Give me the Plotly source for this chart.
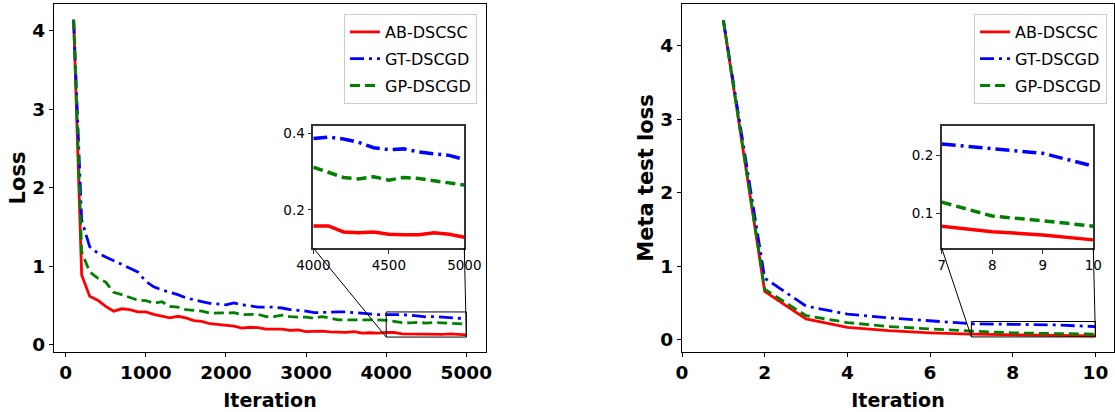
import plotly.graph_objects as go

# ---------------- data ----------------
iters_left = list(range(100, 5001, 100))
ab_left = [4.14, 0.89, 0.62, 0.57, 0.49, 0.43, 0.46, 0.45, 0.42, 0.42,
           0.39, 0.37, 0.345, 0.365, 0.345, 0.31, 0.30, 0.27, 0.26, 0.245,
           0.24, 0.215, 0.225, 0.22, 0.20, 0.20, 0.20, 0.185, 0.19, 0.17,
           0.17, 0.175, 0.165, 0.165, 0.16, 0.17, 0.15, 0.155, 0.15, 0.158,
           0.158, 0.142, 0.14, 0.142, 0.136, 0.135, 0.135, 0.14, 0.136, 0.128]
gt_left = [4.14, 1.59, 1.25, 1.17, 1.12, 1.07, 1.02, 0.98, 0.93, 0.81,
           0.74, 0.70, 0.67, 0.64, 0.60, 0.57, 0.55, 0.53, 0.52, 0.51,
           0.535, 0.51, 0.50, 0.48, 0.48, 0.48, 0.47, 0.45, 0.44, 0.43,
           0.41, 0.415, 0.42, 0.42, 0.42, 0.41, 0.40, 0.39, 0.385, 0.387,
           0.391, 0.386, 0.377, 0.363, 0.358, 0.36, 0.352, 0.347, 0.343, 0.332]
gp_left = [4.14, 1.18, 0.93, 0.85, 0.80, 0.67, 0.64, 0.61, 0.57, 0.565,
           0.53, 0.55, 0.49, 0.48, 0.45, 0.44, 0.43, 0.405, 0.405, 0.405,
           0.41, 0.385, 0.385, 0.39, 0.36, 0.36, 0.38, 0.36, 0.355, 0.355,
           0.34, 0.36, 0.34, 0.32, 0.32, 0.32, 0.32, 0.325, 0.32, 0.312,
           0.298, 0.285, 0.281, 0.287, 0.278, 0.285, 0.282, 0.277, 0.27, 0.265]

iters_right = [1, 2, 3, 4, 5, 6, 7, 8, 9, 10]
ab_right = [4.35, 0.66, 0.285, 0.17, 0.125, 0.095, 0.0775, 0.068, 0.0625, 0.054]
gt_right = [4.35, 0.84, 0.46, 0.35, 0.30, 0.26, 0.219, 0.2115, 0.203, 0.181]
gp_right = [4.35, 0.69, 0.33, 0.235, 0.18, 0.145, 0.119, 0.095, 0.087, 0.0775]

series_names = ["AB-DSCSC", "GT-DSCGD", "GP-DSCGD"]
left_ticks = [0, 1000, 2000, 3000, 4000, 5000]
right_ticks = [0, 2, 4, 6, 8, 10]
y_ticks = [0, 1, 2, 3, 4]
inset_left_xticks = [4000, 4500, 5000]
inset_left_yticks = [0.2, 0.4]
inset_right_xticks = [7, 8, 9, 10]
inset_right_yticks = [0.1, 0.2]

# ---------------- styling ----------------
W, H = 1115, 412
FONT = "DejaVu Sans"
colors = ["#ff0000", "#0000ff", "#008000"]
dashes = ["solid", "14px,5px,3px,5px", "10px,5px"]

L_XDOM = [54 / W, 486 / W]
R_XDOM = [682 / W, 1114 / W]
YDOM = [1 - 352 / H, 1 - 4 / H]
L_XR = [-145, 5245]
L_YR = [-0.09, 4.34]
R_XR = [0, 10.45]
R_YR = [-0.165, 4.57]

IL_XDOM = [313.3 / W, 464.3 / W]
IR_XDOM = [941.7 / W, 1093.3 / W]
I_YDOM = [1 - 248 / H, 1 - 126 / H]
IL_XR = [4000, 5000]
IL_YR = [0.1, 0.42]
IR_XR = [7, 10]
IR_YR = [0.04, 0.25]

fig = go.Figure()

def add_series(xs, ys_list, xa, ya, legend, show, width):
    for name, ys, c, d in zip(series_names, ys_list, colors, dashes):
        fig.add_trace(go.Scatter(
            x=xs, y=ys, mode="lines", name=name, xaxis=xa, yaxis=ya,
            line=dict(color=c, width=width, dash=d),
            showlegend=show, legend=legend, legendgroup=name + legend))

add_series(iters_left, [ab_left, gt_left, gp_left], "x", "y", "legend", True, 2.8)
add_series(iters_right, [ab_right, gt_right, gp_right], "x2", "y2", "legend2", True, 2.8)
il = [i for i, v in enumerate(iters_left) if v >= IL_XR[0]]
add_series([iters_left[i] for i in il],
           [[s[i] for i in il] for s in (ab_left, gt_left, gp_left)],
           "x3", "y3", "legend", False, 3.5)
ir = [i for i, v in enumerate(iters_right) if v >= IR_XR[0]]
add_series([iters_right[i] for i in ir],
           [[s[i] for i in ir] for s in (ab_right, gt_right, gp_right)],
           "x4", "y4", "legend", False, 3.5)

main_tick = dict(family=FONT, size=18.5, color="black", weight="bold")
title_font_x = dict(family=FONT, size=19, color="black", weight="bold")
title_font_y = dict(family=FONT, size=21, color="black", weight="bold")
inset_tick = dict(family=FONT, size=13.5, color="black")

def main_axis(dom, rng, tickvals, anchor, title, tfont, standoff):
    return dict(domain=dom, range=rng, tickvals=tickvals, anchor=anchor,
                showline=True, mirror=True, linecolor="black", linewidth=1.2,
                ticks="outside", ticklen=4, tickwidth=1.2, tickcolor="black",
                showgrid=False, zeroline=False, tickfont=main_tick,
                automargin=False,
                title=dict(text=title, font=tfont, standoff=standoff))

def inset_axis(dom, rng, tickvals, anchor):
    return dict(domain=dom, range=rng, tickvals=tickvals, anchor=anchor,
                showline=True, mirror=True, linecolor="#333333", linewidth=1.5,
                ticks="outside", ticklen=4, tickwidth=1.2, tickcolor="#333333",
                showgrid=False, zeroline=False, tickfont=inset_tick,
                automargin=False)

legend_common = dict(
    xanchor="right", yanchor="top", bgcolor="rgba(255,255,255,0.85)",
    bordercolor="#cccccc", borderwidth=1,
    font=dict(family=FONT, size=16, color="black"),
    tracegroupgap=3, itemwidth=30)

fig.update_layout(
    width=W, height=H, margin=dict(l=0, r=0, t=0, b=0, autoexpand=False),
    paper_bgcolor="white", plot_bgcolor="white",
    font=dict(family=FONT, color="black"),
    xaxis=main_axis(L_XDOM, L_XR, left_ticks, "y", "Iteration", title_font_x, 11),
    yaxis=main_axis(YDOM, L_YR, y_ticks, "x", "Loss", title_font_y, 0),
    xaxis2=main_axis(R_XDOM, R_XR, right_ticks, "y2", "Iteration", title_font_x, 11),
    yaxis2=main_axis(YDOM, R_YR, y_ticks, "x2", "Meta test loss", title_font_y, 0),
    xaxis3=inset_axis(IL_XDOM, IL_XR, inset_left_xticks, "y3"),
    yaxis3=inset_axis(I_YDOM, IL_YR, inset_left_yticks, "x3"),
    xaxis4=inset_axis(IR_XDOM, IR_XR, inset_right_xticks, "y4"),
    yaxis4=inset_axis(I_YDOM, IR_YR, inset_right_yticks, "x4"),
    legend=dict(x=477 / W, y=1 - 14 / H, **legend_common),
    legend2=dict(x=1107 / W, y=1 - 14 / H, **legend_common),
    showlegend=True,
)

def to_paper(x, y, xdom, ydom, xr, yr):
    px = xdom[0] + (x - xr[0]) / (xr[1] - xr[0]) * (xdom[1] - xdom[0])
    py = ydom[0] + (y - yr[0]) / (yr[1] - yr[0]) * (ydom[1] - ydom[0])
    return px, py

line_style = dict(color="black", width=1)
for xref, yref, ixr, iyr, mxdom, mxr, myr, ixdom in [
        ("x", "y", IL_XR, IL_YR, L_XDOM, L_XR, L_YR, IL_XDOM),
        ("x2", "y2", IR_XR, IR_YR, R_XDOM, R_XR, R_YR, IR_XDOM)]:
    fig.add_shape(type="rect", xref=xref, yref=yref,
                  x0=ixr[0], x1=ixr[1], y0=iyr[0], y1=iyr[1], line=line_style)
    bl = to_paper(ixr[0], iyr[0], mxdom, YDOM, mxr, myr)
    br = to_paper(ixr[1], iyr[0], mxdom, YDOM, mxr, myr)
    fig.add_shape(type="line", xref="paper", yref="paper",
                  x0=ixdom[0], y0=I_YDOM[0], x1=bl[0], y1=bl[1], line=line_style)
    fig.add_shape(type="line", xref="paper", yref="paper",
                  x0=ixdom[1], y0=I_YDOM[0], x1=br[0], y1=br[1], line=line_style)

fig.write_html("out.html",
               config={"displayModeBar": False},
               post_script="document.body.style.margin='0px';"
                           "document.body.style.overflow='hidden';")
